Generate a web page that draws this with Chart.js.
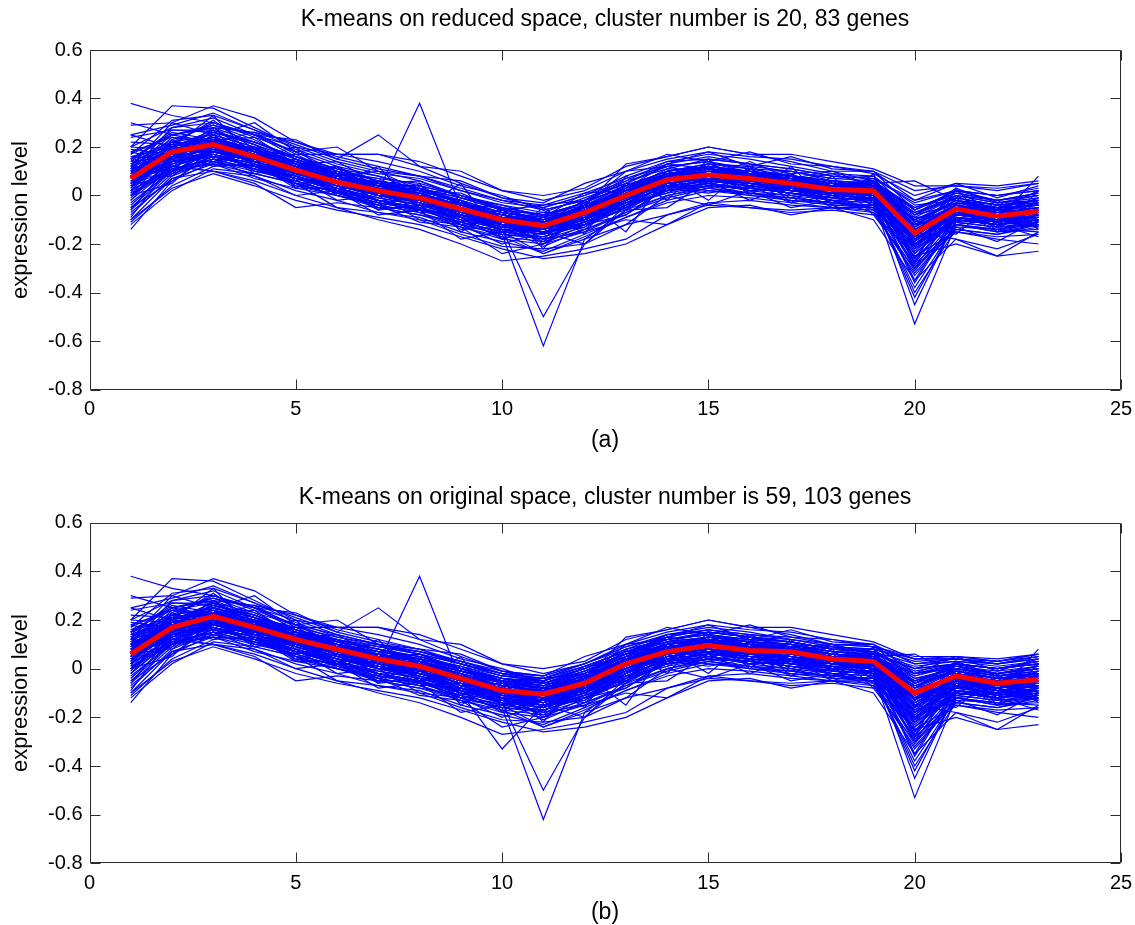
<!DOCTYPE html>
<html>
<head>
<meta charset="utf-8">
<script src="https://cdn.jsdelivr.net/npm/chart.js@4/dist/chart.umd.min.js"></script>
<style>
  html, body { margin: 0; padding: 0; background: #fff; }
  #wrap { position: relative; width: 1135px; height: 925px; overflow: hidden; font-family: "Liberation Sans", Arial, Helvetica, sans-serif; color: #000; }
  canvas { position: absolute; left: 0; }
  .t { position: absolute; left: 89px; width: 1032px; text-align: center; font-size: 23px; line-height: 23px; white-space: nowrap; }
  .yl { position: absolute; font-size: 22px; line-height: 22px; white-space: nowrap; transform: rotate(-90deg); transform-origin: center center; width: 200px; text-align: center; }
</style>
</head>
<body>
<div id="wrap">
  <canvas id="cA" width="1135" height="462" style="top:0"></canvas>
  <canvas id="cB" width="1135" height="463" style="top:462px"></canvas>
  <div class="t" style="top:7px">K-means on reduced space, cluster number is 20, 83 genes</div>
  <div class="t" style="top:428px">(a)</div>
  <div class="t" style="top:485px">K-means on original space, cluster number is 59, 103 genes</div>
  <div class="t" style="top:900px">(b)</div>
  <div class="yl" style="left:-80px; top:209px">expression level</div>
  <div class="yl" style="left:-80px; top:682px">expression level</div>
</div>
<script>
// ---- data ----
const timePoints = [1,2,3,4,5,6,7,8,9,10,11,12,13,14,15,16,17,18,19,20,21,22,23];
const xTickValues = [0,5,10,15,20,25];
const yTickLabels = ['-0.8','-0.6','-0.4','-0.2','0','0.2','0.4','0.6'];

const meanA = [0.07,0.18,0.21,0.16,0.105,0.055,0.02,-0.01,-0.055,-0.10,-0.125,-0.07,0.0,0.065,0.085,0.07,0.05,0.025,0.02,-0.155,-0.055,-0.085,-0.065];
const meanB = [0.06,0.17,0.215,0.17,0.12,0.08,0.04,0.01,-0.04,-0.09,-0.105,-0.06,0.02,0.07,0.095,0.075,0.07,0.04,0.03,-0.10,-0.03,-0.06,-0.045];

const sharedGenes = [
  [0.38,0.33,0.30,0.24,0.18,0.12,0.08,0.04,0.0,-0.05,-0.08,-0.04,0.04,0.10,0.12,0.10,0.08,0.05,0.04,-0.10,-0.02,-0.04,-0.03],
  [0.10,0.20,0.24,0.18,0.12,0.06,0.02,0.38,-0.05,-0.12,-0.15,-0.10,-0.02,0.06,0.08,0.06,0.05,0.02,0.01,-0.20,-0.08,-0.10,-0.08],
  [0.02,0.12,0.18,0.14,0.08,0.03,-0.02,-0.05,-0.10,-0.16,-0.62,-0.18,-0.06,0.03,0.06,0.04,0.02,0.0,-0.01,-0.22,-0.10,-0.12,-0.10],
  [0.05,0.15,0.20,0.15,0.10,0.05,0.0,-0.03,-0.08,-0.14,-0.50,-0.20,-0.04,0.05,0.07,0.05,0.03,0.01,0.0,-0.18,-0.07,-0.10,-0.07],
  [0.0,0.12,0.17,0.13,0.08,0.03,-0.01,-0.04,-0.08,-0.12,-0.15,-0.10,-0.02,0.05,0.07,0.05,0.03,0.01,-0.02,-0.53,-0.12,-0.14,-0.12],
  [0.08,0.18,0.22,0.17,0.11,0.06,0.02,-0.01,-0.06,-0.11,-0.14,-0.08,0.0,0.07,0.09,0.07,0.05,0.02,0.0,-0.45,-0.10,-0.12,-0.08],
  [-0.05,0.10,0.16,0.12,0.07,0.02,-0.02,-0.05,-0.09,-0.13,-0.16,-0.11,-0.03,0.04,0.06,0.04,0.02,0.0,-0.03,-0.40,-0.14,-0.16,-0.12],
  [-0.14,0.06,0.14,0.11,0.06,0.01,-0.03,-0.06,-0.10,-0.14,-0.18,-0.13,-0.05,0.02,0.05,0.03,0.01,-0.01,-0.02,-0.30,-0.12,-0.15,-0.14],
  [0.20,0.37,0.36,0.28,0.20,0.14,0.10,0.06,0.0,-0.05,-0.08,-0.03,0.04,0.10,0.13,0.11,0.08,0.06,0.05,-0.05,0.0,-0.03,0.0],
  [0.29,0.30,0.37,0.32,0.22,0.16,0.12,0.08,0.03,-0.02,-0.06,-0.02,0.06,0.11,0.15,0.13,0.11,0.08,0.07,-0.02,0.02,0.0,0.02],
  [0.15,0.25,0.28,0.26,0.22,0.17,0.17,0.12,0.05,-0.01,-0.05,0.0,0.08,0.14,0.17,0.15,0.12,0.09,0.08,-0.08,0.0,-0.02,0.01],
  [0.10,0.15,0.18,0.14,0.09,0.04,0.0,-0.02,-0.07,-0.12,-0.15,-0.12,-0.05,0.02,0.04,0.03,0.01,-0.02,-0.05,-0.25,-0.20,-0.25,-0.23],
  [0.12,0.22,0.25,0.20,0.14,0.08,0.04,0.01,-0.04,-0.08,-0.11,-0.06,0.02,0.08,0.10,0.09,0.07,0.04,0.04,-0.12,-0.04,-0.07,-0.05],
  [0.04,0.16,0.19,0.15,0.10,0.05,0.01,-0.02,-0.06,-0.11,-0.13,-0.08,-0.01,0.06,0.08,0.06,0.05,0.02,0.02,-0.16,-0.06,-0.09,-0.07],
  [0.09,0.19,0.23,0.18,0.12,0.07,0.03,0.0,-0.05,-0.09,-0.12,-0.06,0.01,0.07,0.09,0.08,0.06,0.03,0.03,-0.14,-0.05,-0.08,-0.06],
  [0.0,0.14,0.18,0.14,0.09,0.04,0.0,-0.03,-0.07,-0.12,-0.14,-0.09,-0.02,0.05,0.07,0.05,0.04,0.01,0.0,-0.20,-0.08,-0.10,-0.09],
  [0.14,0.21,0.24,0.19,0.14,0.09,0.05,0.02,-0.03,-0.07,-0.10,-0.05,0.03,0.09,0.11,0.09,0.07,0.05,0.05,-0.10,-0.03,-0.06,-0.04],
  [-0.08,0.08,0.15,0.11,0.05,0.0,-0.05,-0.08,-0.13,-0.18,-0.20,-0.15,-0.07,0.0,0.03,0.01,-0.01,-0.03,-0.04,-0.28,-0.14,-0.16,-0.13],
  [0.06,0.13,0.16,0.12,0.07,0.03,-0.02,-0.06,-0.11,-0.17,-0.24,-0.17,-0.09,-0.02,0.02,0.01,-0.02,-0.04,-0.05,-0.22,-0.12,-0.14,-0.11],
  [0.12,0.17,0.20,0.13,0.05,-0.05,-0.07,-0.10,-0.16,-0.21,-0.22,-0.20,-0.12,-0.08,-0.04,-0.05,-0.06,-0.05,-0.05,-0.20,-0.10,-0.12,-0.10],
  [0.18,0.24,0.22,0.17,0.11,0.07,0.06,0.03,-0.03,-0.07,-0.09,-0.05,0.03,0.10,0.13,0.12,0.10,0.07,0.06,-0.06,0.01,-0.02,0.0],
  [0.03,0.20,0.27,0.21,0.13,0.06,0.02,-0.02,-0.08,-0.13,-0.14,-0.09,0.01,0.09,0.11,0.09,0.06,0.03,0.01,-0.20,-0.07,-0.11,-0.09],
  [0.16,0.20,0.26,0.22,0.16,0.10,0.04,0.0,-0.04,-0.09,-0.12,-0.08,-0.01,0.06,0.09,0.07,0.06,0.04,0.03,-0.08,-0.04,-0.06,-0.03],
  [-0.03,0.10,0.18,0.15,0.10,0.06,0.02,-0.01,-0.06,-0.10,-0.13,-0.07,0.0,0.08,0.10,0.08,0.05,0.02,0.01,-0.17,-0.05,-0.08,-0.06],
  [0.10,0.12,0.10,0.05,-0.05,-0.03,-0.05,-0.08,-0.11,-0.15,-0.17,-0.12,-0.05,0.02,0.04,0.03,0.01,-0.01,-0.02,-0.18,-0.09,-0.11,-0.09],
  [0.20,0.28,0.30,0.25,0.20,0.17,0.17,0.14,0.08,0.02,-0.02,0.02,0.10,0.15,0.18,0.16,0.15,0.12,0.10,0.02,0.04,0.03,0.05],
  [0.07,0.17,0.21,0.16,0.10,0.05,0.01,-0.02,-0.06,-0.10,-0.13,-0.07,0.0,0.06,0.08,0.07,0.05,0.02,0.02,-0.15,-0.05,-0.09,-0.07],
  [0.11,0.16,0.19,0.15,0.11,0.06,0.03,0.0,-0.04,-0.09,-0.11,-0.06,0.02,0.07,0.09,0.08,0.06,0.03,0.03,-0.13,-0.04,-0.08,-0.05],
  [0.02,0.11,0.15,0.11,0.07,0.02,-0.02,-0.05,-0.09,-0.13,-0.15,-0.10,-0.03,0.04,0.06,0.04,0.03,0.0,-0.01,-0.24,-0.09,-0.12,-0.10],
  [0.05,0.18,0.22,0.17,0.12,0.07,0.03,0.01,-0.04,-0.08,-0.11,-0.04,0.13,0.16,0.20,0.17,0.14,0.10,0.10,-0.06,0.02,0.0,0.03],
  [0.08,0.14,0.17,0.13,0.09,0.05,0.01,-0.03,-0.08,-0.12,-0.14,-0.09,-0.03,0.04,0.06,0.05,0.04,0.02,0.01,-0.12,-0.07,-0.10,0.08],
  [0.06,0.15,0.20,0.16,0.11,0.06,0.02,-0.01,-0.06,-0.11,-0.13,-0.08,-0.01,0.05,0.07,0.06,0.04,0.01,0.0,-0.15,-0.18,-0.25,-0.15],
  [0.0,0.10,0.13,0.09,0.05,0.0,-0.04,-0.07,-0.12,-0.16,-0.18,-0.15,-0.10,-0.12,-0.03,-0.02,-0.04,-0.05,-0.06,-0.20,-0.12,-0.15,-0.12],
  [0.13,0.20,0.24,0.19,0.13,0.08,0.04,0.01,-0.04,-0.09,-0.11,-0.06,0.02,0.08,0.10,0.09,0.07,0.04,0.05,0.06,-0.02,-0.05,-0.02],
  [0.05,0.17,0.22,0.18,0.12,0.08,0.03,0.0,-0.05,-0.09,-0.11,-0.06,0.01,0.07,0.10,0.08,0.06,0.03,0.01,-0.35,-0.08,-0.10,-0.08],
  [0.09,0.20,0.23,0.17,0.12,0.06,0.01,-0.01,-0.06,-0.10,-0.12,-0.07,0.0,0.06,0.08,0.07,0.05,0.03,0.02,-0.30,-0.06,-0.09,-0.07],
  [-0.10,0.07,0.13,0.12,0.08,0.04,0.0,-0.04,-0.08,-0.12,-0.14,-0.10,-0.02,0.05,0.07,0.05,0.03,0.01,0.0,-0.26,-0.10,-0.12,-0.10],
  [0.17,0.25,0.29,0.23,0.15,0.09,0.05,0.02,-0.03,-0.08,-0.10,-0.05,0.03,0.09,0.12,0.10,0.08,0.05,0.04,-0.07,-0.01,-0.04,-0.02],
  [0.04,0.14,0.18,0.14,0.10,0.05,0.0,-0.02,-0.07,-0.11,-0.14,-0.08,-0.02,0.05,0.07,0.06,0.04,0.01,0.01,-0.19,-0.06,-0.09,-0.07],
  [0.08,0.19,0.22,0.17,0.12,0.07,0.03,-0.01,-0.05,-0.10,-0.12,-0.07,0.0,0.06,0.09,0.07,0.05,0.03,0.02,-0.14,-0.04,-0.08,-0.06],
  [-0.06,0.09,0.21,0.20,0.08,0.09,-0.03,0.03,-0.11,-0.07,-0.18,-0.04,-0.06,0.10,0.05,0.11,0.02,0.06,-0.03,-0.12,-0.10,-0.04,-0.11],
  [0.18,0.14,0.27,0.12,0.15,0.02,0.06,-0.05,-0.02,-0.15,-0.09,-0.11,0.05,0.03,0.12,0.04,0.09,-0.01,0.06,-0.21,-0.01,-0.12,-0.03],
  [0.01,0.23,0.16,0.19,0.06,0.10,0.00,0.02,-0.09,-0.06,-0.16,-0.03,-0.04,0.09,0.04,0.10,0.03,0.05,-0.02,-0.09,-0.08,-0.05,-0.10],
  [0.12,0.10,0.25,0.14,0.13,0.01,0.05,-0.04,-0.03,-0.13,-0.08,-0.10,0.04,0.02,0.11,0.05,0.07,0.00,0.05,-0.26,-0.03,-0.11,-0.02],
  [-0.09,0.13,0.19,0.10,0.11,0.04,-0.04,0.00,-0.12,-0.10,-0.20,-0.08,-0.01,0.07,0.06,0.09,0.00,0.04,-0.04,-0.19,-0.07,-0.09,-0.12],
  [0.22,0.21,0.31,0.19,0.16,0.11,0.08,0.02,0.01,-0.06,-0.04,-0.02,0.07,0.12,0.14,0.09,0.10,0.07,0.08,-0.04,-0.02,-0.06,0.02],
  [0.15,0.26,0.23,0.24,0.13,0.14,0.05,0.06,-0.01,-0.04,-0.09,0.01,0.02,0.11,0.10,0.12,0.06,0.09,0.04,-0.08,0.03,-0.03,-0.01],
  [-0.02,0.16,0.14,0.17,0.05,0.06,-0.02,-0.07,-0.06,-0.15,-0.13,-0.12,-0.03,0.01,0.08,0.02,0.04,-0.03,0.02,-0.28,-0.06,-0.13,-0.05],
  [0.08,0.08,0.20,0.09,0.12,0.00,0.03,-0.03,-0.10,-0.12,-0.19,-0.07,-0.05,0.05,0.03,0.07,-0.01,0.03,-0.04,-0.17,-0.11,-0.08,-0.13],
  [0.14,0.27,0.26,0.21,0.10,0.12,0.04,0.04,-0.04,-0.05,-0.11,-0.02,0.03,0.13,0.11,0.10,0.08,0.04,0.06,-0.11,-0.02,-0.07,-0.03],
  [0.03,0.19,0.24,0.15,0.14,0.05,0.04,-0.02,-0.03,-0.11,-0.10,-0.06,0.02,0.04,0.10,0.06,0.07,0.03,0.01,-0.14,-0.05,-0.06,-0.08],
  [-0.11,0.04,0.12,0.13,0.03,0.03,-0.06,-0.04,-0.14,-0.13,-0.21,-0.14,-0.08,0.03,0.01,0.04,-0.03,0.00,-0.06,-0.33,-0.13,-0.14,-0.15],
  [0.25,0.29,0.34,0.27,0.19,0.13,0.09,0.07,0.02,-0.03,-0.05,0.00,0.06,0.14,0.15,0.13,0.09,0.10,0.06,-0.05,0.01,-0.02,0.00],
  [0.06,0.12,0.17,0.11,0.07,0.04,0.02,-0.06,-0.08,-0.14,-0.15,-0.13,-0.02,0.03,0.05,0.02,0.03,-0.02,-0.01,-0.23,-0.09,-0.11,-0.09],
  [0.11,0.21,0.19,0.20,0.09,0.08,0.03,0.01,-0.07,-0.08,-0.14,-0.05,0.00,0.08,0.07,0.08,0.04,0.04,0.03,-0.16,-0.04,-0.10,-0.06],
  [0.19,0.17,0.28,0.16,0.17,0.09,0.07,0.00,-0.02,-0.10,-0.07,-0.08,0.05,0.06,0.13,0.08,0.09,0.02,0.07,-0.13,0.00,-0.08,-0.01],
  [-0.04,0.11,0.15,0.14,0.04,0.02,-0.05,-0.05,-0.12,-0.16,-0.17,-0.11,-0.06,0.00,0.04,0.01,0.00,-0.04,-0.04,-0.38,-0.12,-0.10,-0.13],
  [0.09,0.24,0.22,0.18,0.14,0.07,0.00,0.00,-0.05,-0.09,-0.13,-0.04,0.02,0.09,0.09,0.07,0.06,0.05,0.00,-0.15,-0.04,-0.09,-0.07],
  [0.16,0.15,0.21,0.13,0.08,0.03,0.03,-0.02,-0.08,-0.10,-0.12,-0.09,-0.01,0.04,0.06,0.05,0.02,0.01,0.02,-0.18,-0.06,-0.07,-0.06],
  [0.02,0.18,0.26,0.22,0.16,0.11,0.06,0.03,-0.01,-0.06,-0.08,-0.03,0.04,0.10,0.12,0.09,0.08,0.06,0.03,-0.10,-0.03,-0.05,-0.04],
  [-0.07,0.07,0.10,0.08,0.02,-0.02,-0.07,-0.09,-0.15,-0.19,-0.23,-0.16,-0.09,-0.03,0.00,-0.01,-0.03,-0.05,-0.07,-0.25,-0.15,-0.17,-0.16],
  [0.13,0.23,0.29,0.25,0.18,0.10,0.07,0.05,0.00,-0.04,-0.07,-0.01,0.05,0.12,0.14,0.11,0.10,0.06,0.05,-0.07,0.00,-0.03,-0.02],
  [0.07,0.11,0.13,0.07,0.03,0.00,-0.03,-0.06,-0.09,-0.14,-0.16,-0.10,-0.04,0.01,0.04,0.03,0.01,-0.02,-0.03,-0.21,-0.10,-0.12,-0.10],
  [0.20,0.19,0.17,0.12,0.10,0.08,0.05,0.04,0.00,-0.06,-0.10,-0.04,0.03,0.07,0.10,0.08,0.07,0.05,0.04,-0.09,-0.01,-0.04,-0.02],
  [-0.01,0.15,0.23,0.19,0.13,0.06,0.01,-0.03,-0.08,-0.12,-0.14,-0.09,0.00,0.07,0.10,0.07,0.04,0.02,0.00,-0.27,-0.07,-0.11,-0.08],
  [0.10,0.28,0.32,0.25,0.16,0.09,0.04,0.02,-0.02,-0.07,-0.10,-0.05,0.01,0.08,0.12,0.10,0.07,0.05,0.04,-0.11,-0.03,-0.05,-0.04],
  [0.04,0.09,0.14,0.10,0.06,0.01,-0.04,-0.07,-0.13,-0.17,-0.19,-0.14,-0.07,-0.01,0.03,0.00,-0.01,-0.03,-0.05,-0.31,-0.11,-0.13,-0.12],
  [0.13,0.18,0.20,0.17,0.13,0.09,0.05,0.03,-0.02,-0.07,-0.09,-0.03,0.04,0.09,0.11,0.10,0.08,0.05,0.05,-0.06,0.02,-0.02,0.01],
  [-0.12,0.02,0.11,0.09,0.05,0.02,-0.03,-0.06,-0.11,-0.15,-0.17,-0.12,-0.04,0.02,0.05,0.02,0.00,-0.02,-0.03,-0.42,-0.11,-0.13,-0.11],
  [0.17,0.31,0.33,0.27,0.21,0.15,0.11,0.08,0.02,-0.02,-0.04,0.01,0.07,0.13,0.16,0.13,0.11,0.08,0.07,-0.03,0.02,0.00,0.02],
  [0.05,0.13,0.18,0.16,0.12,0.07,0.04,0.00,-0.05,-0.11,-0.12,-0.07,0.00,0.06,0.08,0.07,0.05,0.03,0.02,-0.13,-0.05,-0.07,-0.06],
  [0.00,0.19,0.20,0.14,0.09,0.05,0.01,-0.03,-0.07,-0.11,-0.14,-0.10,-0.01,0.05,0.07,0.05,0.03,0.01,0.00,-0.36,-0.09,-0.12,-0.09],
  [0.09,0.16,0.25,0.20,0.14,0.08,0.05,0.01,-0.05,-0.09,-0.10,-0.06,0.02,0.08,0.11,0.08,0.06,0.04,0.03,-0.12,-0.04,-0.06,-0.05],
  [0.24,0.27,0.27,0.21,0.15,0.10,0.06,0.03,-0.01,-0.06,-0.08,-0.03,0.04,0.10,0.12,0.10,0.08,0.06,0.05,-0.08,-0.01,-0.04,-0.03],
  [-0.05,0.06,0.17,0.13,0.07,0.02,-0.02,-0.05,-0.10,-0.14,-0.16,-0.11,-0.04,0.03,0.05,0.03,0.02,-0.01,-0.02,-0.29,-0.10,-0.12,-0.11],
  [0.08,0.22,0.21,0.15,0.11,0.06,0.02,-0.01,-0.06,-0.10,-0.11,-0.08,-0.01,0.05,0.08,0.06,0.05,0.02,0.01,-0.17,-0.06,-0.08,-0.07],
  [0.14,0.16,0.22,0.19,0.12,0.07,0.04,0.02,-0.03,-0.08,-0.12,-0.06,0.02,0.07,0.09,0.09,0.06,0.04,0.03,-0.10,-0.03,-0.06,-0.04],
  [0.01,0.10,0.16,0.12,0.07,0.03,-0.01,-0.04,-0.09,-0.13,-0.15,-0.11,-0.03,0.04,0.06,0.04,0.02,0.00,-0.01,-0.21,-0.09,-0.10,-0.09],
  [0.11,0.25,0.28,0.22,0.15,0.09,0.05,0.02,-0.03,-0.07,-0.10,-0.05,0.02,0.09,0.11,0.09,0.07,0.04,0.04,-0.12,-0.02,-0.05,-0.04],
  [0.06,0.14,0.20,0.14,0.09,0.04,0.00,-0.02,-0.07,-0.11,-0.13,-0.08,-0.01,0.06,0.08,0.06,0.04,0.02,0.01,-0.16,-0.06,-0.09,-0.07],
  [0.05,0.10,0.15,0.08,0.00,-0.05,-0.10,-0.14,-0.20,-0.27,-0.25,-0.22,-0.18,-0.08,-0.03,-0.05,-0.07,-0.06,-0.08,-0.30,-0.15,-0.18,-0.20],
  [0.15,0.22,0.30,0.25,0.23,0.15,0.25,0.12,0.10,0.02,0.00,0.03,0.12,0.16,0.20,0.17,0.17,0.14,0.11,0.04,0.04,0.02,0.05],
  [0.02,0.18,0.12,0.20,0.03,0.12,-0.06,0.05,-0.15,-0.05,-0.22,-0.02,-0.15,0.08,-0.02,0.12,-0.03,0.08,-0.08,-0.10,-0.16,-0.02,-0.14],
  [0.25,0.20,0.33,0.15,0.20,0.05,0.12,-0.06,0.05,-0.18,-0.05,-0.16,0.08,-0.02,0.15,0.00,0.12,-0.04,0.09,-0.28,0.03,-0.15,0.02],
  [-0.10,0.03,0.09,0.04,-0.02,-0.06,-0.09,-0.12,-0.17,-0.22,-0.26,-0.24,-0.20,-0.12,-0.05,-0.04,-0.08,-0.05,-0.10,-0.35,-0.18,-0.22,-0.16],
  [0.12,0.30,0.25,0.30,0.18,0.20,0.10,0.08,0.06,-0.01,-0.03,0.05,0.10,0.17,0.14,0.18,0.13,0.12,0.09,0.00,0.05,-0.01,0.04],
  [0.00,0.05,0.20,0.10,0.08,-0.02,0.00,-0.10,-0.12,-0.20,-0.15,-0.20,-0.06,-0.05,0.06,-0.02,0.04,-0.05,0.00,-0.22,-0.05,-0.15,-0.08],
  [0.10,0.20,0.18,0.14,0.15,0.08,0.10,0.02,-0.02,-0.12,-0.10,-0.04,0.10,0.12,0.08,0.14,0.07,0.10,0.04,-0.16,0.02,-0.07,-0.01],
  [-0.02,0.12,0.10,0.06,0.00,0.02,-0.08,-0.06,-0.18,-0.15,-0.24,-0.18,-0.12,0.00,-0.04,0.02,-0.05,-0.02,-0.07,-0.32,-0.13,-0.19,-0.10],
  [0.30,0.25,0.22,0.26,0.17,0.17,0.14,0.10,0.04,0.00,-0.06,-0.02,0.05,0.13,0.18,0.12,0.16,0.11,0.10,-0.02,0.05,0.04,0.06],
  [0.08,0.16,0.28,0.18,0.10,0.12,0.02,0.00,-0.09,-0.18,-0.12,-0.14,-0.02,0.10,0.12,0.03,0.08,0.00,0.05,-0.18,-0.08,-0.05,-0.12],
  [-0.06,0.14,0.16,0.12,0.04,0.00,-0.04,-0.11,-0.13,-0.24,-0.20,-0.12,-0.08,0.04,0.02,0.00,-0.02,-0.03,-0.04,-0.24,-0.10,-0.12,-0.17]
];

const extraGenesB = [
  [0.10,0.18,0.22,0.19,0.15,0.12,0.09,0.06,0.02,-0.03,-0.05,0.0,0.08,0.12,0.14,0.12,0.11,0.08,0.07,0.02,0.03,0.01,0.03],
  [0.05,0.16,0.20,0.17,0.13,0.10,0.07,0.05,0.0,-0.04,-0.06,-0.01,0.06,0.11,0.13,0.11,0.10,0.07,0.06,0.0,0.02,0.0,0.02],
  [0.00,0.14,0.19,0.16,0.12,0.09,0.06,0.03,-0.02,-0.06,-0.08,-0.02,0.05,0.10,0.12,0.10,0.09,0.06,0.05,-0.03,0.01,-0.02,0.0],
  [0.12,0.20,0.24,0.20,0.16,0.12,0.08,0.05,0.01,-0.04,-0.05,0.01,0.07,0.12,0.15,0.13,0.12,0.09,0.08,0.04,0.04,0.02,0.05],
  [0.03,0.15,0.21,0.18,0.14,0.10,0.06,0.04,-0.01,-0.05,-0.07,-0.02,0.05,0.10,0.12,0.11,0.09,0.07,0.05,-0.02,0.0,-0.02,0.01],
  [0.08,0.17,0.21,0.18,0.13,0.09,0.06,0.03,-0.01,-0.06,-0.07,-0.03,0.04,0.09,0.11,0.10,0.09,0.06,0.05,-0.04,0.0,-0.03,-0.01],
  [-0.02,0.12,0.18,0.15,0.11,0.08,0.05,0.02,-0.03,-0.07,-0.09,-0.04,0.04,0.09,0.11,0.09,0.08,0.05,0.04,-0.06,-0.01,-0.04,-0.02],
  [0.15,0.22,0.25,0.21,0.17,0.13,0.10,0.07,0.03,-0.02,-0.03,0.02,0.09,0.13,0.16,0.14,0.13,0.10,0.09,0.05,0.05,0.03,0.06],
  [0.06,0.16,0.21,0.17,0.12,0.08,0.04,0.0,-0.10,-0.33,-0.15,-0.08,0.0,0.07,0.09,0.07,0.06,0.04,0.03,-0.10,-0.03,-0.06,-0.04],
  [0.04,0.14,0.19,0.16,0.12,0.08,0.05,0.02,-0.03,-0.07,-0.09,-0.04,0.03,0.08,0.10,0.08,0.07,0.04,0.03,-0.12,-0.05,-0.08,-0.05],
  [0.09,0.19,0.24,0.20,0.15,0.11,0.08,0.05,0.00,-0.05,-0.06,-0.01,0.06,0.12,0.14,0.12,0.11,0.08,0.07,-0.01,0.02,0.0,0.02],
  [0.13,0.21,0.22,0.19,0.14,0.12,0.07,0.04,0.01,-0.03,-0.04,0.01,0.07,0.11,0.13,0.11,0.10,0.09,0.06,0.01,0.03,0.02,0.04],
  [-0.04,0.11,0.18,0.17,0.12,0.09,0.04,0.02,-0.02,-0.07,-0.08,-0.03,0.05,0.09,0.11,0.10,0.08,0.05,0.04,-0.05,-0.01,-0.03,-0.02],
  [0.07,0.20,0.25,0.21,0.16,0.12,0.09,0.06,0.02,-0.02,-0.04,0.02,0.08,0.12,0.15,0.13,0.11,0.08,0.08,0.03,0.04,0.02,0.04],
  [0.02,0.13,0.19,0.16,0.11,0.08,0.05,0.02,-0.02,-0.06,-0.08,-0.03,0.03,0.09,0.11,0.09,0.08,0.05,0.03,-0.07,-0.01,-0.04,-0.02],
  [0.16,0.24,0.27,0.23,0.18,0.14,0.10,0.07,0.03,-0.01,-0.03,0.02,0.09,0.14,0.16,0.14,0.12,0.10,0.09,0.04,0.05,0.03,0.06],
  [0.05,0.17,0.22,0.18,0.13,0.09,0.06,0.03,-0.01,-0.05,-0.07,-0.02,0.05,0.10,0.12,0.10,0.09,0.06,0.05,-0.02,0.01,-0.01,0.01],
  [0.10,0.16,0.20,0.17,0.13,0.10,0.07,0.04,0.00,-0.04,-0.06,0.00,0.06,0.10,0.13,0.11,0.10,0.07,0.06,0.00,0.02,0.00,0.03]
];

// ---- drawing ----
const FONT = '"Liberation Sans", Arial, Helvetica, sans-serif';
const AXIS_COLOR = '#2b2b2b';

const boxTicks = {
  id: 'boxTicks',
  afterDraw(chart) {
    const { ctx, chartArea: a, scales: { x, y } } = chart;
    ctx.save();
    ctx.strokeStyle = AXIS_COLOR;
    ctx.lineWidth = 1;
    const L = Math.round(a.left) + 0.5, R = Math.round(a.right) - 0.5;
    const T = Math.round(a.top) + 0.5, B = Math.round(a.bottom) - 0.5;
    ctx.beginPath();
    ctx.rect(L, T, R - L, B - T);
    x.ticks.forEach(t => {
      const p = Math.round(x.getPixelForValue(t.value)) + 0.5;
      ctx.moveTo(p, B); ctx.lineTo(p, B - 10);
      ctx.moveTo(p, T); ctx.lineTo(p, T + 10);
    });
    y.ticks.forEach(t => {
      const p = Math.round(y.getPixelForValue(t.value)) + 0.5;
      ctx.moveTo(L, p); ctx.lineTo(L + 10, p);
      ctx.moveTo(R, p); ctx.lineTo(R - 10, p);
    });
    ctx.stroke();
    ctx.restore();
  }
};

function toPts(arr) { return timePoints.map((t, i) => ({ x: t, y: arr[i] })); }

function makeChart(id, genes, mean, areaTop, areaBottom, H) {
  const datasets = [{
    data: toPts(mean), borderColor: '#ff0000', borderWidth: 5, pointRadius: 0, tension: 0,
    borderJoinStyle: 'round', borderCapStyle: 'butt'
  }];
  genes.forEach(g => datasets.push({
    data: toPts(g), borderColor: '#0000ff', borderWidth: 1.2, pointRadius: 0, tension: 0
  }));
  return new Chart(document.getElementById(id), {
    type: 'line',
    data: { datasets },
    options: {
      responsive: false, animation: false, devicePixelRatio: 1,
      layout: { padding: { top: areaTop, right: 14, left: 0, bottom: 0 } },
      plugins: { legend: { display: false }, tooltip: { enabled: false }, title: { display: false } },
      scales: {
        x: {
          type: 'linear', min: 0, max: 25,
          afterFit(s) { s.height = H - areaBottom; s.paddingLeft = 0; s.paddingRight = 0; },
          afterBuildTicks(s) { s.ticks = xTickValues.map(v => ({ value: v })); },
          grid: { display: false, drawTicks: false },
          border: { display: false },
          ticks: { color: '#000', font: { family: FONT, size: 20 }, padding: 8, maxRotation: 0, callback: v => String(v) }
        },
        y: {
          type: 'linear', min: -0.8, max: 0.6,
          afterFit(s) { s.width = 89.5; s.paddingTop = 0; s.paddingBottom = 0; },
          afterBuildTicks(s) { s.ticks = yTickLabels.map(l => ({ value: parseFloat(l) })); },
          grid: { display: false, drawTicks: false },
          border: { display: false },
          ticks: { color: '#000', font: { family: FONT, size: 20 }, padding: 7,
                   callback: (v, i) => yTickLabels[i] }
        }
      }
    },
    plugins: [boxTicks]
  });
}

makeChart('cA', sharedGenes, meanA, 50, 389.5, 462);
makeChart('cB', sharedGenes.concat(extraGenesB), meanB, 60.7, 401.3, 463);
</script>
</body>
</html>
